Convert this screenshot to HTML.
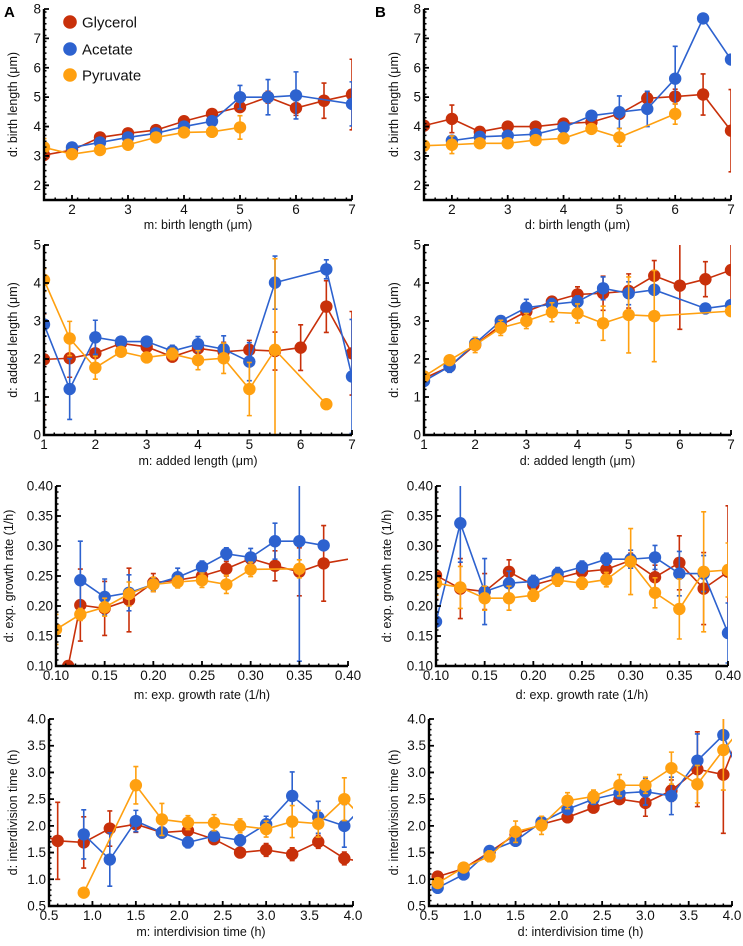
<!DOCTYPE html>
<html><head><meta charset="utf-8">
<style>
html,body{margin:0;padding:0;background:#fff;}
svg{display:block;font-family:"Liberation Sans",sans-serif;}
</style></head>
<body>
<svg id="fig" width="743" height="946" viewBox="0 0 743 946" xmlns="http://www.w3.org/2000/svg"></svg>
<script>
// ---- data: each point is [x, y, errorHalfWidth] ----
const seriesNames = ["Glycerol","Acetate","Pyruvate"];
const a1Gly = [[1.5,3.03,0.1],[2,3.2,0.05],[2.5,3.63,0.08],[3,3.77,0.06],[3.5,3.88,0.06],[4,4.18,0.07],[4.5,4.43,0.08],[5,4.66,0.15],[5.5,5.0,0.2],[6,4.63,0.25],[6.5,4.88,0.6],[7,5.09,1.2]];
const a1Ace = [[2,3.29,0.05],[2.5,3.46,0.05],[3,3.63,0.05],[3.5,3.77,0.05],[4,4.0,0.06],[4.5,4.18,0.1],[5,5.0,0.4],[5.5,5.0,0.6],[6,5.06,0.8],[7,4.77,0.75]];
const a1Pyr = [[1.5,3.29,0.3],[2,3.06,0.06],[2.5,3.2,0.05],[3,3.38,0.05],[3.5,3.63,0.05],[4,3.8,0.06],[4.5,3.82,0.1],[5,3.97,0.4]];
const b1Gly = [[1.5,4.03,0.1],[2,4.26,0.47],[2.5,3.82,0.1],[3,4.0,0.08],[3.5,4.0,0.08],[4,4.1,0.08],[4.5,4.15,0.1],[5,4.43,0.15],[5.5,4.96,0.2],[6,5.02,0.25],[6.5,5.09,0.7],[7,3.86,1.4]];
const b1Ace = [[2,3.52,0.08],[2.5,3.65,0.06],[3,3.69,0.06],[3.5,3.74,0.06],[4,3.97,0.08],[4.5,4.37,0.1],[5,4.49,0.55],[5.5,4.6,0.6],[6,5.63,1.1],[6.5,7.68,0],[7,6.28,0]];
const b1Pyr = [[1.5,3.35,0.05],[2,3.38,0.3],[2.5,3.43,0.06],[3,3.43,0.06],[3.5,3.54,0.06],[4,3.6,0.08],[4.5,3.92,0.1],[5,3.63,0.3],[6,4.43,0.35]];
const a2Gly = [[1,1.99,1.2],[1.5,2.02,0.5],[2,2.15,0.3],[2.5,2.41,0.1],[3,2.32,0.1],[3.5,2.06,0.1],[4,2.28,0.1],[4.5,2.19,0.25],[5,2.24,0.25],[5.5,2.21,0.5],[6,2.3,0.6],[6.5,3.38,0.68],[7,2.15,1.1]];
const a2Ace = [[1,2.91,0.3],[1.5,1.21,0.8],[2,2.57,0.45],[2.5,2.46,0.12],[3,2.46,0.12],[3.5,2.21,0.15],[4,2.39,0.2],[4.5,2.26,0.35],[5,1.93,0.5],[5.5,4.01,0.7],[6.5,4.36,0.25],[7,1.54,1.5]];
const a2Pyr = [[1,4.08,0.3],[1.5,2.54,0.45],[2,1.77,0.3],[2.5,2.19,0.1],[3,2.04,0.1],[3.5,2.13,0.15],[4,1.97,0.25],[4.5,2.02,0.4],[5,1.21,0.7],[5.5,2.24,2.4],[6.5,0.81,0]];
const b2Gly = [[1,1.49,0.1],[1.5,1.8,0.1],[2,2.37,0.1],[2.5,2.89,0.1],[3,3.25,0.12],[3.5,3.51,0.12],[4,3.7,0.2],[4.5,3.73,0.45],[5,3.79,0.45],[5.5,4.19,0.4],[6,3.93,1.15],[6.5,4.1,0.46],[7,4.34,1.0]];
const b2Ace = [[1,1.42,0.1],[1.5,1.8,0.15],[2,2.41,0.1],[2.5,3.0,0.1],[3,3.35,0.22],[3.5,3.44,0.15],[4,3.51,0.15],[4.5,3.86,0.3],[5,3.73,0.3],[5.5,3.82,0.1],[6.5,3.33,0],[7,3.42,0]];
const b2Pyr = [[1,1.54,0.1],[1.5,1.97,0.1],[2,2.37,0.2],[2.5,2.82,0.2],[3,3.0,0.2],[3.5,3.23,0.25],[4,3.2,0.25],[4.5,2.94,0.45],[5,3.16,1.0],[5.5,3.13,1.2],[7,3.26,0]];
const a3Gly = [[0.1125,0.10,0],[0.125,0.2015,0.06],[0.15,0.196,0.045],[0.175,0.21,0.053],[0.2,0.239,0.015],[0.225,0.243,0.01],[0.25,0.25,0.01],[0.275,0.262,0.012],[0.3,0.279,0.01],[0.325,0.267,0.025],[0.35,0.257,0.04],[0.375,0.271,0.063],[0.425,0.285,0]];
const a3Ace = [[0.125,0.243,0.065],[0.15,0.215,0.03],[0.175,0.222,0.03],[0.2,0.236,0.01],[0.225,0.248,0.015],[0.25,0.265,0.01],[0.275,0.287,0.01],[0.3,0.281,0.015],[0.325,0.308,0.03],[0.35,0.308,0.2],[0.375,0.301,0]];
const a3Pyr = [[0.1,0.161,0.025],[0.125,0.186,0.01],[0.15,0.198,0.015],[0.175,0.22,0.02],[0.2,0.236,0.012],[0.225,0.24,0.01],[0.25,0.243,0.012],[0.275,0.236,0.015],[0.3,0.261,0.012],[0.35,0.262,0.015]];
const b3Gly = [[0.1,0.251,0.04],[0.125,0.229,0.05],[0.15,0.224,0.03],[0.175,0.257,0.02],[0.2,0.235,0.015],[0.225,0.246,0.01],[0.25,0.257,0.01],[0.275,0.261,0.01],[0.3,0.276,0.012],[0.325,0.248,0.02],[0.35,0.272,0.045],[0.375,0.229,0.06],[0.4,0.257,0.11]];
const b3Ace = [[0.1,0.174,0],[0.125,0.338,0.065],[0.15,0.224,0.055],[0.175,0.238,0.02],[0.2,0.241,0.01],[0.225,0.254,0.01],[0.25,0.265,0.01],[0.275,0.278,0.01],[0.3,0.278,0.015],[0.325,0.281,0.02],[0.35,0.254,0.037],[0.375,0.254,0.03],[0.4,0.155,0.05]];
const b3Pyr = [[0.1,0.238,0.02],[0.125,0.231,0.035],[0.15,0.213,0.02],[0.175,0.213,0.02],[0.2,0.218,0.01],[0.225,0.243,0.01],[0.25,0.238,0.01],[0.275,0.244,0.012],[0.3,0.274,0.055],[0.325,0.222,0.025],[0.35,0.195,0.05],[0.375,0.257,0.1],[0.4,0.26,0.045]];
const a4Gly = [[0.3,1.9,0],[0.6,1.72,0.72],[0.9,1.69,0.48],[1.2,1.95,0.33],[1.5,2.03,0.15],[1.8,1.875,0.1],[2.1,1.91,0.1],[2.4,1.75,0.08],[2.7,1.5,0.08],[3.0,1.55,0.12],[3.3,1.47,0.12],[3.6,1.7,0.12],[3.9,1.39,0.12],[4.2,1.3,0]];
const a4Ace = [[0.9,1.84,0.46],[1.2,1.37,0.5],[1.5,2.09,0.2],[1.8,1.875,0.1],[2.1,1.69,0.1],[2.4,1.81,0.08],[2.7,1.73,0.1],[3.0,2.03,0.15],[3.3,2.56,0.45],[3.6,2.16,0.3],[3.9,2.0,0.4],[4.2,2.5,0]];
const a4Pyr = [[0.9,0.75,0],[1.5,2.76,0.35],[1.8,2.12,0.3],[2.1,2.06,0.13],[2.4,2.06,0.15],[2.7,2.0,0.13],[3.0,1.94,0.15],[3.3,2.08,0.3],[3.6,2.04,0.25],[3.9,2.5,0.4],[4.2,2.0,0]];
const b4Gly = [[0.6,1.05,0.05],[0.9,1.2,0.05],[1.2,1.51,0.05],[1.5,1.84,0.05],[1.8,2.03,0.07],[2.1,2.16,0.07],[2.4,2.34,0.07],[2.7,2.5,0.08],[3.0,2.43,0.25],[3.3,2.66,0.2],[3.6,3.06,0.7],[3.9,2.96,1.1],[4.2,4.2,0]];
const b4Ace = [[0.6,0.84,0.05],[0.9,1.09,0.05],[1.2,1.53,0.08],[1.5,1.72,0.07],[1.8,2.07,0.07],[2.1,2.31,0.08],[2.4,2.5,0.08],[2.7,2.61,0.1],[3.0,2.64,0.25],[3.3,2.56,0.35],[3.6,3.22,0.5],[3.9,3.7,0],[4.2,2.5,0]];
const b4Pyr = [[0.6,0.93,0.08],[0.9,1.22,0.08],[1.2,1.43,0.1],[1.5,1.89,0.2],[1.8,2.01,0.17],[2.1,2.47,0.15],[2.4,2.55,0.12],[2.7,2.76,0.2],[3.0,2.76,0.15],[3.3,3.08,0.3],[3.6,2.78,0.35],[3.9,3.42,0.75],[4.2,4.0,0]];
const ticksRow1X = [2,3,4,5,6,7];
const ticksRow1Y = [2,3,4,5,6,7,8];
const ticksRow2X = [1,2,3,4,5,6,7];
const ticksRow2Y = [0,1,2,3,4,5];
const ticksRow3 = ["0.10","0.15","0.20","0.25","0.30","0.35","0.40"];
const ticksRow4 = ["0.5","1.0","1.5","2.0","2.5","3.0","3.5","4.0"];

const colors = ["#c8300a","#2d62cf","#ffa010"];
const NS = "http://www.w3.org/2000/svg";
const fig = document.getElementById("fig");
function mk(tag, attrs, parent){ const e=document.createElementNS(NS,tag); for(const k in attrs) e.setAttribute(k,attrs[k]); (parent||fig).appendChild(e); return e; }

const panels = [
 {id:"a1",L:44,R:352,T:9,B:200,xd:[1.5,7],yd:[1.5,8],xt:ticksRow1X,yt:ticksRow1Y,xm:0.2,ym:0.2,xl:"m: birth length (μm)",yl:"d: birth length (μm)",s:[a1Gly,a1Ace,a1Pyr],xlab:229,tky:214,ylx:17},
 {id:"b1",L:424,R:731,T:9,B:200,xd:[1.5,7],yd:[1.5,8],xt:ticksRow1X,yt:ticksRow1Y,xm:0.2,ym:0.2,xl:"d: birth length (μm)",yl:"d: birth length (μm)",s:[b1Gly,b1Ace,b1Pyr],xlab:229,tky:214,ylx:398},
 {id:"a2",L:44,R:352,T:245,B:435,xd:[1,7],yd:[0,5],xt:ticksRow2X,yt:ticksRow2Y,xm:0.2,ym:0.2,xl:"m: added length (μm)",yl:"d: added length (μm)",s:[a2Gly,a2Ace,a2Pyr],xlab:465,tky:449,ylx:17},
 {id:"b2",L:424,R:731,T:245,B:435,xd:[1,7],yd:[0,5],xt:ticksRow2X,yt:ticksRow2Y,xm:0.2,ym:0.2,xl:"d: added length (μm)",yl:"d: added length (μm)",s:[b2Gly,b2Ace,b2Pyr],xlab:465,tky:449,ylx:398},
 {id:"a3",L:56,R:348,T:486,B:666,xd:[0.1,0.4],yd:[0.1,0.4],xt:ticksRow3,yt:ticksRow3,xm:0.01,ym:0.01,xl:"m: exp. growth rate (1/h)",yl:"d: exp. growth rate (1/h)",s:[a3Gly,a3Ace,a3Pyr],xlab:699,tky:680,ylx:13},
 {id:"b3",L:436,R:728,T:486,B:666,xd:[0.1,0.4],yd:[0.1,0.4],xt:ticksRow3,yt:ticksRow3,xm:0.01,ym:0.01,xl:"d: exp. growth rate (1/h)",yl:"d: exp. growth rate (1/h)",s:[b3Gly,b3Ace,b3Pyr],xlab:699,tky:680,ylx:391},
 {id:"a4",L:49,R:353,T:719,B:906,xd:[0.5,4],yd:[0.5,4],xt:ticksRow4,yt:ticksRow4,xm:0.1,ym:0.1,xl:"m: interdivision time (h)",yl:"d: interdivision time (h)",s:[a4Gly,a4Ace,a4Pyr],xlab:936,tky:920,ylx:17},
 {id:"b4",L:429,R:732,T:719,B:906,xd:[0.5,4],yd:[0.5,4],xt:ticksRow4,yt:ticksRow4,xm:0.1,ym:0.1,xl:"d: interdivision time (h)",yl:"d: interdivision time (h)",s:[b4Gly,b4Ace,b4Pyr],xlab:936,tky:920,ylx:398}
];

panels.forEach(p=>{
  const g = mk("g",{});
  
  
  const sx = v => p.L + (v-p.xd[0])/(p.xd[1]-p.xd[0])*(p.R-p.L);
  const sy = v => p.B - (v-p.yd[0])/(p.yd[1]-p.yd[0])*(p.B-p.T);
  const cid = "clip-"+p.id;
  const cp = mk("clipPath",{id:cid},g);
  mk("rect",{x:p.L,y:p.T,width:p.R-p.L,height:p.B-p.T},cp);
  p.s.forEach((data,si)=>{
    const sg = mk("g",{"clip-path":"url(#"+cid+")"},g);
    
    
    const c = colors[si];
    mk("polyline",{points:data.map(d=>sx(d[0])+","+sy(d[1])).join(" "),fill:"none",stroke:c,"stroke-width":1.6},sg);
    data.forEach(d=>{
      if(d[2]>0){
        const x=sx(d[0]), y1=sy(d[1]+d[2]), y2=sy(d[1]-d[2]);
        mk("path",{d:`M${x},${y1}V${y2}M${x-2.5},${y1}h5M${x-2.5},${y2}h5`,stroke:c,"stroke-width":1.6,fill:"none"},sg);
      }
    });
    data.forEach(d=>{
      const m = mk("circle",{cx:sx(d[0]),cy:sy(d[1]),r:6.2,fill:c},sg);
      
      
    });
  });
  mk("path",{d:`M${p.L},${p.T}V${p.B}H${p.R}`,stroke:"#000","stroke-width":2.4,fill:"none"},g);
  let dm="";
  for(let v=p.xd[0]; v<=p.xd[1]+1e-9; v+=p.xm){ dm+=`M${sx(v)},${p.B}v-2.5`; }
  for(let v=p.yd[0]; v<=p.yd[1]+1e-9; v+=p.ym){ dm+=`M${p.L},${sy(v)}h2.5`; }
  mk("path",{d:dm,stroke:"#000","stroke-width":1.5},g);
  let dM="";
  p.xt.forEach(t=>{ dM+=`M${sx(+t)},${p.B}v-5`; });
  p.yt.forEach(t=>{ dM+=`M${p.L},${sy(+t)}h5`; });
  mk("path",{d:dM,stroke:"#000","stroke-width":1.8},g);
  p.xt.forEach(t=>{
    const e=mk("text",{x:sx(+t),y:p.tky,"text-anchor":"middle","font-size":13.5,fill:"#111"},g); e.textContent=t;
    
    
  });
  p.yt.forEach(t=>{
    const e=mk("text",{x:p.L-3,y:sy(+t)+4.5,"text-anchor":"end","font-size":13.5,fill:"#111"},g); e.textContent=t;
    
    
  });
  const xt=mk("text",{x:(p.L+p.R)/2,y:p.xlab,"text-anchor":"middle","font-size":12.5,fill:"#111"},g); xt.textContent=p.xl;
  
  
  const cy=(p.T+p.B)/2;
  const yt=mk("text",{x:p.ylx,y:cy,"text-anchor":"middle","font-size":12.5,fill:"#111",transform:`rotate(-90 ${p.ylx} ${cy})`},g); yt.textContent=p.yl;
  
  
});

const la=mk("text",{x:4,y:17,"font-size":15,"font-weight":"bold"}); la.textContent="A";


const lb=mk("text",{x:375,y:17,"font-size":15,"font-weight":"bold"}); lb.textContent="B";



const legY=[22,49,75];
seriesNames.forEach((n,i)=>{
  const lg=mk("g",{});
  
  
  mk("circle",{cx:70,cy:legY[i],r:6.8,fill:colors[i]},lg);
  const t=mk("text",{x:82,y:legY[i]+5.5,"font-size":15,fill:"#111"},lg); t.textContent=n;
});
</script>
</body></html>
